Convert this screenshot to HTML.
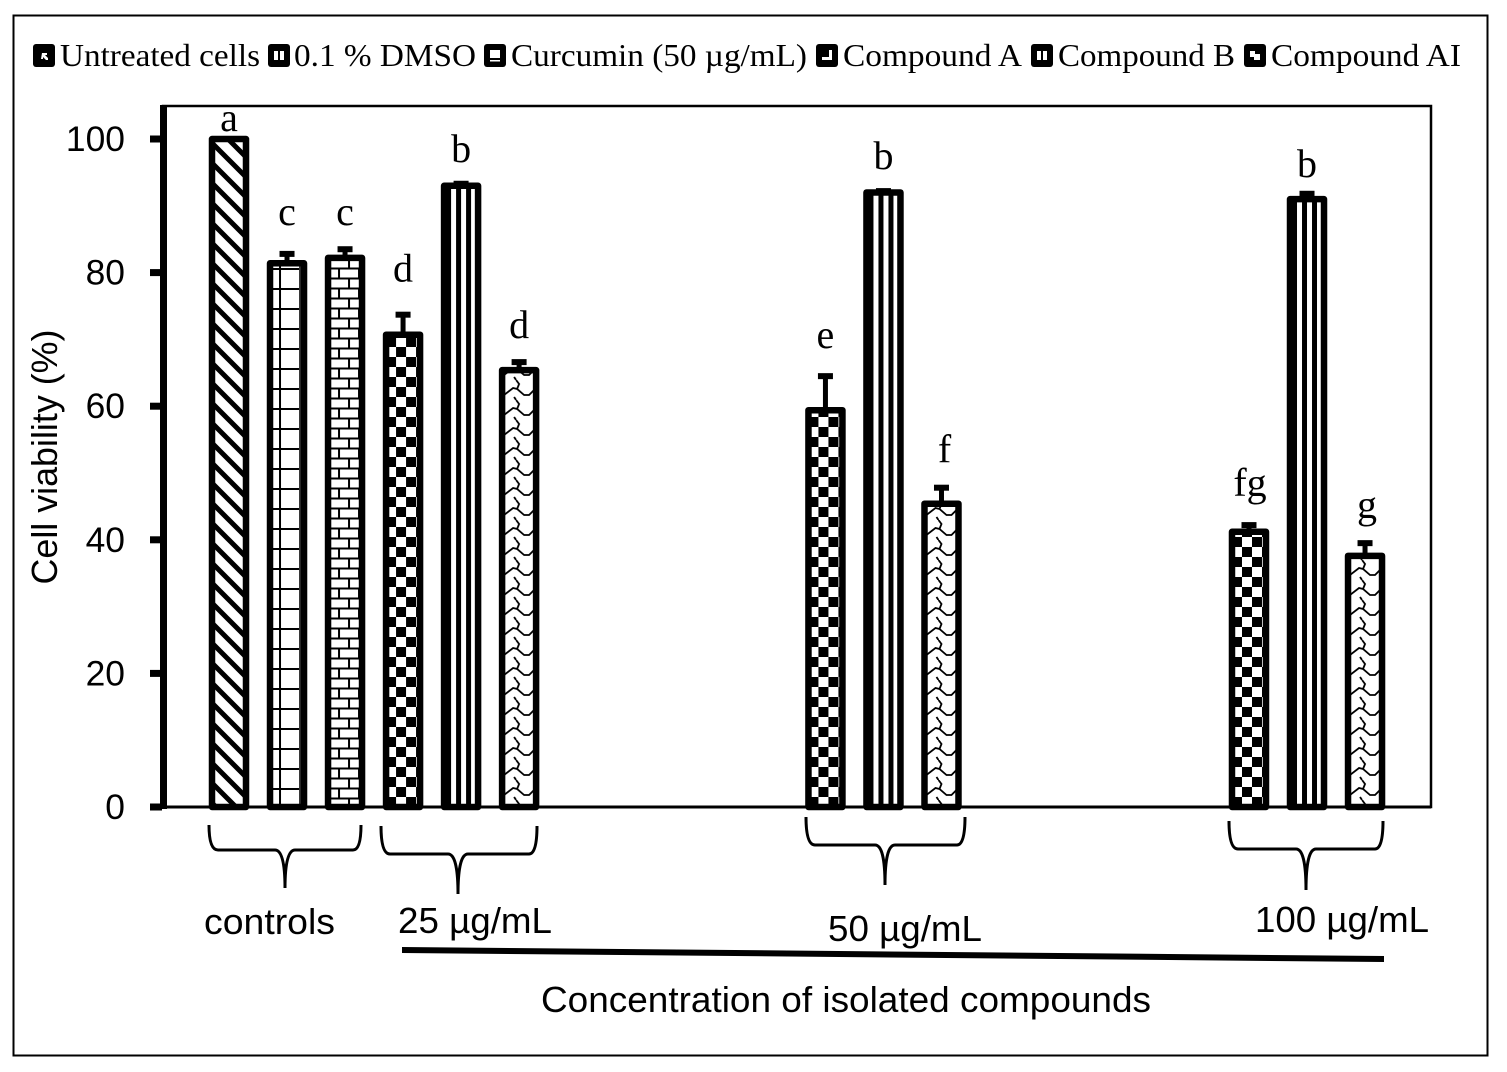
<!DOCTYPE html>
<html>
<head>
<meta charset="utf-8">
<title>Cell viability chart</title>
<style>
html,body{margin:0;padding:0;background:#fff;}
svg{display:block;}
.serif{font-family:"Liberation Serif",serif;fill:#000;}
.sans{font-family:"Liberation Sans",sans-serif;fill:#000;}
</style>
</head>
<body>
<svg id="chart" xmlns="http://www.w3.org/2000/svg" width="1507" height="1072" viewBox="0 0 1507 1072">
  <defs>
    <pattern id="p-diag" patternUnits="userSpaceOnUse" width="20" height="20">
      <rect width="20" height="20" fill="#fff"/>
      <path d="M-5 -5L25 25M-5 15L5 25M15 -5L25 5" stroke="#000" stroke-width="5"/>
    </pattern>
    <pattern id="p-grid" patternUnits="userSpaceOnUse" width="40" height="20" patternTransform="translate(0,8)">
      <rect width="40" height="20" fill="#fff"/>
      <rect x="0" y="0" width="40" height="2" fill="#000"/>
      <rect x="12" y="0" width="2" height="20" fill="#000"/>
      <rect x="32" y="0" width="2" height="20" fill="#333"/>
    </pattern>
    <pattern id="p-brick" patternUnits="userSpaceOnUse" width="20" height="20" patternTransform="translate(0,7.5)">
      <rect width="20" height="20" fill="#fff"/>
      <rect x="0" y="0" width="20" height="2" fill="#000"/>
      <rect x="0" y="10" width="20" height="2" fill="#000"/>
      <rect x="13" y="0" width="2" height="10" fill="#000"/>
      <rect x="3" y="10" width="2" height="10" fill="#000"/>
    </pattern>
    <pattern id="p-check" patternUnits="userSpaceOnUse" width="20" height="20" patternTransform="translate(3,17)">
      <rect width="20" height="20" fill="#fff"/>
      <rect x="0" y="0" width="10" height="10" fill="#000"/>
      <rect x="10" y="10" width="10" height="10" fill="#000"/>
    </pattern>
    <pattern id="p-stripe" patternUnits="userSpaceOnUse" width="10" height="10">
      <rect width="10" height="10" fill="#fff"/>
      <rect x="5" y="0" width="5" height="10" fill="#000"/>
    </pattern>
    <pattern id="p-wave" patternUnits="userSpaceOnUse" width="40" height="20">
      <rect width="40" height="20" fill="#fff"/>
      <path d="M0 17L5 15L14 8L18 9L25 15L30 15L36 9L40 12M18 9L20 4L17 0M17 20L15 17" fill="none" stroke="#000" stroke-width="1.8"/>
    </pattern>
  </defs>

  <rect x="0" y="0" width="1507" height="1072" fill="#fff"/>
  <rect x="13.5" y="15.5" width="1474" height="1040" fill="none" stroke="#000" stroke-width="2"/>

  <g id="legend"></g>

  <rect x="163" y="106" width="1268" height="701" fill="none" stroke="#000" stroke-width="2.5"/>

  <g id="bars"></g>
  <g id="axis"></g>
  <line x1="150" y1="807" x2="1431" y2="807" stroke="#000" stroke-width="3"/>

  <text class="sans" font-size="36" text-anchor="middle" transform="translate(57,457) rotate(-90)" textLength="255" lengthAdjust="spacingAndGlyphs">Cell viability (%)</text>

  <path fill="none" stroke="#000" stroke-width="3" d="M209 825Q209 850 218 850L275 850Q285 850 285 888Q285 850 295 850L353 850Q361 850 361 825"/>
  <path fill="none" stroke="#000" stroke-width="3" d="M381 826Q381 854 390 854L448 854Q458 854 458 894Q458 854 468 854L529 854Q537 854 537 826"/>
  <path fill="none" stroke="#000" stroke-width="3" d="M806 817Q806 845 815 845L875 845Q885 845 885 885Q885 845 895 845L957 845Q965 845 965 817"/>
  <path fill="none" stroke="#000" stroke-width="3" d="M1229 821Q1229 849 1238 849L1296 849Q1306 849 1306 890Q1306 849 1316 849L1375 849Q1383 849 1383 821"/>

  <text class="sans" font-size="36" x="204" y="934" textLength="131" lengthAdjust="spacingAndGlyphs">controls</text>
  <text class="sans" font-size="36" x="398" y="933" textLength="154" lengthAdjust="spacingAndGlyphs">25 µg/mL</text>
  <text class="sans" font-size="36" x="828" y="941" textLength="154" lengthAdjust="spacingAndGlyphs">50 µg/mL</text>
  <text class="sans" font-size="36" x="1255" y="932" textLength="174" lengthAdjust="spacingAndGlyphs">100 µg/mL</text>
  <polygon points="402,947 1384,956 1384,962 402,953" fill="#000"/>
  <text class="sans" font-size="36" x="541" y="1012" textLength="610" lengthAdjust="spacingAndGlyphs">Concentration of isolated compounds</text>

  <script>
    var categories = ['Untreated cells', '0.1 % DMSO', 'Curcumin', 'A 25', 'B 25', 'AI 25', 'A 50', 'B 50', 'AI 50', 'A 100', 'B 100', 'AI 100'];
    var viability = [100, 81.4, 82.2, 70.7, 93, 65.4, 59.4, 92, 45.4, 41.2, 91, 37.6];
    var errors = [0, 1.4, 1.3, 3, 0.3, 1.2, 5.1, 0.2, 2.4, 1, 0.8, 1.9];
    var letters = ['a', 'c', 'c', 'd', 'b', 'd', 'e', 'b', 'f', 'fg', 'b', 'g'];
    var fills = ['p-diag', 'p-grid', 'p-brick', 'p-check', 'p-stripe', 'p-wave', 'p-check', 'p-stripe', 'p-wave', 'p-check', 'p-stripe', 'p-wave'];
    var slots = [0, 1, 2, 3, 4, 5, 10.28, 11.28, 12.28, 17.58, 18.58, 19.58];
    var yTicks = [0, 20, 40, 60, 80, 100];
    var legendNames = ['Untreated cells', '0.1 % DMSO', 'Curcumin (50 µg/mL)', 'Compound A', 'Compound B', 'Compound AI'];

    var NS = 'http://www.w3.org/2000/svg';
    var letterGap = [8, 29, 24, 33, 22, 24, 28, 22, 25, 29, 17, 25];
    var letterShift = [0, 0, 0, 0, 0, 0, 0, 0, 3, 1, 0, 2];
    function yScale(v) { return 807 - v * 6.68; }
    function xScale(s) { return 229 + s * 58.02; }
    function mk(tag, attrs, parent) {
      var el = document.createElementNS(NS, tag);
      for (var k in attrs) { el.setAttribute(k, attrs[k]); }
      parent.appendChild(el);
      return el;
    }

    var barsG = document.getElementById('bars');
    viability.forEach(function (v, i) {
      var cx = xScale(slots[i]);
      var g = mk('g', { transform: 'translate(' + (cx - 20) + ',0)' }, barsG);
      
      

      var top = yScale(v);
      var errTop = yScale(v + errors[i]);

      var stem = mk('line', { x1: 20, x2: 20, y1: top, y2: errTop, stroke: '#000', 'stroke-width': 5 }, g);
      
      

      var cap = mk('rect', { x: 12.5, y: errTop - 3, width: 15, height: 6, fill: '#000' }, g);
      
      

      var bar = mk('rect', {
        x: 3, y: top, width: 34, height: yScale(0) - top,
        fill: 'url(#' + fills[i] + ')', stroke: '#000', 'stroke-width': 6.5,
        'stroke-linejoin': 'round'
      }, g);
      
      

      var lab = mk('text', {
        x: 20 + letterShift[i], y: errTop - letterGap[i], 'text-anchor': 'middle',
        'font-size': 40, 'class': 'serif'
      }, g);
      
      
      lab.textContent = letters[i];
    });

    var axisG = document.getElementById('axis');
    var spine = mk('rect', { x: 160, y: 105, width: 7, height: 704, fill: '#000' }, axisG);
    
    
    yTicks.forEach(function (t) {
      var tick = mk('rect', { x: 150, y: yScale(t) - 3.5, width: 12, height: 7, fill: '#000' }, axisG);
      
      
      var s = String(t);
      var label = mk('text', {
        x: 125, y: yScale(t) + 12, 'text-anchor': 'end', 'font-size': 35, 'class': 'sans',
        textLength: s.length * 19.7, lengthAdjust: 'spacingAndGlyphs'
      }, axisG);
      
      
      label.textContent = s;
    });

    var legendG = document.getElementById('legend');
    var legendMarkX = [33, 268, 484, 816, 1031, 1244];
    var legendTextX = [60, 294, 511, 843, 1058, 1271];
    var legendTextW = [200, 182, 296, 179, 177, 190];
    var legendGlyphs = [
      'M9 9h5v2h-2l3 3v2h-2l-3-3v2h-2z',
      'M6 7h4v9h-4zM12 7h4v9h-4z',
      'M6 6h10v8h-10zM6 16h10v1.5h-10z',
      'M13 6h3v10h-10v-3h7z',
      'M6 7h4v9h-4zM12 7h4v9h-4z',
      'M6 7h5v3h5v6h-6v-3h-4z'
    ];
    legendNames.forEach(function (name, i) {
      var box = mk('rect', { x: legendMarkX[i], y: 44, width: 22, height: 23, rx: 3, fill: '#000' }, legendG);
      
      
      var glyph = mk('path', { d: legendGlyphs[i], fill: '#fff', transform: 'translate(' + legendMarkX[i] + ',44)' }, legendG);
      
      
      var tx = mk('text', {
        x: legendTextX[i], y: 66, 'font-size': 32, 'class': 'serif',
        textLength: legendTextW[i], lengthAdjust: 'spacingAndGlyphs'
      }, legendG);
      
      
      tx.textContent = name;
    });
  </script>
</svg>
</body>
</html>
